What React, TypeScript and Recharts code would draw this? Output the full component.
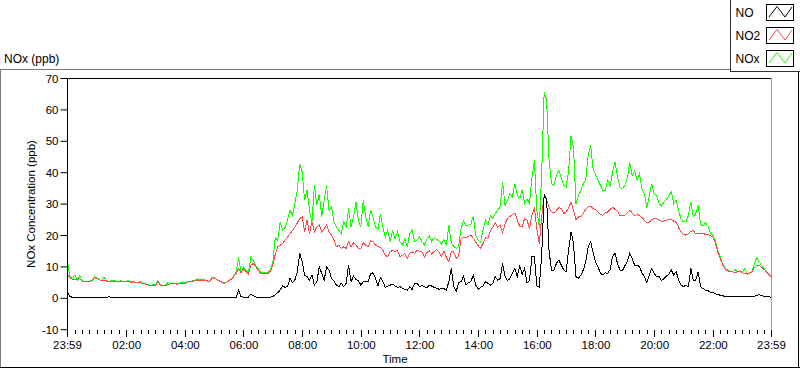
import React from 'react';
import { LineChart, Line, XAxis, YAxis, ReferenceLine } from 'recharts';

const FONT = '"Liberation Sans", Arial, sans-serif';

// sampling step of the series (minutes from 23:59 of the previous day)
const STEP_MIN = 5;

// NO (ppb), one row per hour (12 x 5-min values)
const NO_PPB = [
  1.8, 0.6, 0.3, 0.2, 0.3, 0.2, 0.2, 0.2, 0.3, 0.2, 0.2, 0.3,
  0.2, 0.3, 0.2, 0.2, 0.2, 0.5, 0.2, 0.2, 0.2, 0.2, 0.2, 0.2,
  0.2, 0.2, 0.2, 0.3, 0.2, 0.2, 0.4, 0.2, 0.3, 0.2, 0.2, 0.2,
  0.3, 0.2, 0.3, 0.2, 0.2, 0.3, 0.3, 0.2, 0.3, 0.2, 0.3, 0.4,
  0.3, 0.3, 0.2, 0.3, 0.3, 0.3, 0.2, 0.3, 0.3, 0.3, 0.3, 0.4,
  0.3, 0.3, 0.3, 0.3, 0.3, 0.3, 0.3, 0.3, 0.4, 0.4, 2.6, 0.5,
  0.4, 0.4, 0.4, 1.4, 0.8, 0.4, 0.4, 0.4, 0.4, 0.4, 0.4, 0.4,
  0.5, 1.2, 1.8, 2.6, 4.0, 3.5, 3.7, 6.3, 5.0, 5.8, 8.4, 14.3,
  11.6, 7.4, 6.9, 5.8, 7.4, 4.2, 5.3, 10.0, 7.9, 5.8, 10.0, 9.0,
  6.3, 5.6, 4.2, 3.7, 4.8, 3.7, 4.8, 10.6, 5.3, 7.1, 6.0, 5.6,
  4.2, 5.3, 5.3, 5.3, 7.9, 8.1, 6.3, 3.9, 6.6, 5.3, 3.5, 3.9,
  4.2, 4.5, 3.9, 3.5, 3.7, 3.2, 2.8, 2.6, 3.7, 2.8, 4.8, 4.8,
  3.7, 4.0, 3.7, 3.4, 4.1, 3.9, 3.5, 3.2, 2.9, 3.1, 3.1, 2.6,
  5.3, 9.5, 3.9, 2.1, 5.0, 5.3, 6.9, 4.2, 5.0, 5.3, 7.4, 4.2,
  2.9, 3.5, 3.9, 5.3, 4.8, 4.2, 4.8, 6.9, 5.8, 6.3, 11.1, 6.9,
  5.6, 6.3, 7.9, 9.5, 6.9, 10.3, 7.7, 9.5, 4.8, 5.8, 13.2, 13.2,
  4.0, 3.5, 14.0, 33.0, 31.5, 15.0, 9.0, 9.0, 11.1, 12.2, 10.6, 9.0,
  8.5, 15.3, 21.2, 17.4, 6.9, 6.3, 7.4, 9.0, 11.6, 16.4, 18.0, 14.8,
  11.6, 10.0, 8.1, 7.4, 8.1, 7.9, 9.2, 13.4, 14.3, 11.1, 9.0, 8.8,
  10.3, 11.6, 14.3, 12.7, 10.6, 10.6, 10.0, 8.1, 6.9, 5.0, 7.4, 9.5,
  7.9, 6.9, 6.9, 5.6, 6.3, 7.1, 7.7, 9.0, 7.4, 8.5, 5.8, 4.2,
  3.7, 4.2, 3.7, 9.5, 5.8, 5.8, 8.5, 3.7, 3.1, 2.6, 2.4, 2.0,
  1.8, 1.5, 1.2, 1.0, 0.8, 0.6, 0.5, 0.5, 0.5, 0.5, 0.5, 0.5,
  0.5, 0.5, 0.5, 0.5, 0.5, 0.7, 1.0, 1.1, 0.8, 0.6, 0.5, 0.5,
  0.3,
];

// NO2 (ppb)
const NO2_PPB = [
  7.5, 6.5, 6.1, 6.0, 5.8, 6.3, 5.5, 5.3, 5.3, 5.3, 5.6, 6.6,
  6.3, 5.9, 5.5, 5.8, 5.5, 5.3, 5.5, 5.5, 5.4, 5.3, 5.5, 5.2,
  5.3, 5.5, 5.1, 5.2, 5.0, 5.0, 4.9, 4.7, 4.5, 4.2, 4.0, 4.2,
  4.1, 5.5, 4.2, 4.0, 4.0, 4.3, 4.6, 4.8, 4.6, 4.5, 4.7, 4.6,
  4.8, 5.1, 5.3, 5.4, 5.6, 5.6, 5.8, 5.8, 5.8, 5.6, 5.3, 6.2,
  6.6, 5.9, 5.6, 5.2, 4.8, 5.0, 5.6, 6.0, 6.9, 8.0, 9.5, 8.0,
  9.5, 8.5, 7.6, 10.5, 11.1, 10.0, 9.0, 8.0, 7.9, 7.9, 7.9, 8.5,
  10.6, 14.0, 16.4, 16.9, 17.5, 18.5, 19.5, 20.5, 21.5, 22.7, 24.0, 25.4,
  25.9, 21.2, 24.9, 20.6, 24.3, 21.2, 22.7, 23.3, 21.2, 22.2, 23.3, 21.2,
  20.1, 18.5, 16.4, 16.9, 15.9, 16.4, 15.9, 18.0, 16.4, 17.7, 16.9, 15.9,
  15.9, 17.7, 16.9, 16.4, 18.3, 18.0, 16.9, 16.4, 16.2, 15.3, 13.7, 13.2,
  14.8, 15.3, 14.8, 15.3, 13.2, 13.7, 14.3, 12.7, 14.3, 14.8, 14.3, 15.3,
  15.0, 14.8, 13.2, 14.6, 15.1, 14.1, 14.9, 15.5, 14.7, 13.4, 15.1, 13.0,
  11.6, 14.8, 14.8, 12.7, 13.4, 19.1, 19.4, 19.2, 19.8, 20.1, 19.2, 17.9,
  16.7, 15.9, 17.5, 19.3, 19.1, 21.5, 22.7, 24.1, 22.7, 23.3, 20.8, 23.8,
  25.4, 26.1, 26.7, 27.2, 24.9, 22.9, 22.9, 25.4, 24.9, 22.2, 26.4, 28.9,
  22.0, 17.4, 26.0, 32.8, 31.5, 29.0, 27.5, 27.2, 28.0, 28.9, 28.6, 27.0,
  27.5, 28.8, 30.7, 28.0, 25.1, 25.9, 25.9, 27.0, 28.3, 29.1, 29.3, 28.6,
  28.3, 27.5, 26.8, 26.4, 27.2, 27.5, 28.3, 29.0, 28.3, 27.7, 26.4, 26.4,
  26.4, 27.3, 28.0, 27.2, 26.4, 26.7, 26.4, 25.7, 24.9, 24.0, 24.2, 25.1,
  25.4, 25.3, 24.9, 24.5, 24.6, 24.9, 25.1, 25.0, 24.6, 24.2, 22.5, 21.0,
  20.4, 20.1, 20.6, 21.4, 21.5, 20.6, 20.8, 20.7, 20.6, 20.4, 20.3, 20.0,
  19.6, 17.7, 14.8, 12.7, 10.6, 9.3, 8.8, 8.5, 8.4, 8.1, 8.4, 8.6,
  8.1, 7.9, 7.7, 7.9, 8.4, 9.8, 10.6, 10.5, 9.8, 9.2, 8.4, 7.6,
  6.6,
];

// NOx (ppb)
const NOX_PPB = [
  11.6, 7.0, 6.2, 7.4, 5.9, 7.2, 5.6, 5.4, 5.4, 5.4, 5.7, 6.9,
  6.4, 6.0, 5.6, 6.7, 5.6, 5.4, 5.6, 5.6, 5.5, 5.4, 5.6, 5.3,
  5.4, 5.6, 5.2, 5.3, 5.1, 5.1, 5.5, 4.8, 4.6, 4.3, 4.1, 4.3,
  4.2, 5.6, 4.3, 4.1, 4.1, 5.0, 4.7, 4.9, 4.7, 4.6, 4.8, 5.2,
  4.9, 5.2, 5.4, 5.5, 5.7, 6.2, 5.9, 5.9, 5.9, 5.7, 5.4, 6.6,
  6.8, 6.0, 5.7, 5.3, 4.9, 5.1, 5.7, 6.1, 7.2, 8.4, 13.0, 8.5,
  9.9, 8.9, 8.0, 13.0, 12.0, 10.4, 9.4, 8.4, 8.3, 8.3, 8.3, 8.9,
  11.4, 19.4, 18.5, 24.3, 21.7, 22.5, 24.9, 28.0, 26.4, 30.0, 34.4, 42.9,
  40.2, 31.2, 34.4, 28.0, 24.3, 36.0, 29.6, 33.3, 25.9, 31.2, 36.0, 28.0,
  29.1, 24.3, 22.7, 21.7, 20.6, 24.3, 22.7, 28.6, 22.7, 25.9, 30.7, 24.9,
  22.7, 31.2, 25.9, 22.7, 28.0, 25.9, 22.7, 21.7, 26.9, 22.7, 19.6, 21.7,
  18.0, 21.7, 19.0, 21.2, 18.0, 16.9, 19.0, 16.4, 20.6, 21.7, 18.0, 18.5,
  19.6, 18.0, 17.0, 18.7, 19.8, 18.0, 19.4, 18.7, 18.3, 17.2, 18.7, 17.0,
  23.3, 17.5, 16.6, 15.9, 16.4, 22.2, 24.7, 23.0, 23.3, 23.6, 26.1, 20.1,
  18.5, 17.7, 21.7, 24.9, 23.3, 26.4, 25.4, 27.0, 28.0, 29.1, 37.0, 29.6,
  31.2, 33.3, 32.3, 36.5, 32.8, 31.7, 34.6, 30.2, 31.7, 30.2, 38.6, 43.9,
  28.0, 22.7, 40.0, 65.6, 63.0, 44.0, 36.5, 36.0, 39.1, 40.7, 38.4, 36.0,
  35.4, 40.7, 51.8, 48.1, 30.1, 32.8, 34.2, 36.5, 37.6, 45.5, 48.7, 41.3,
  39.4, 37.6, 36.0, 34.4, 34.4, 37.6, 35.7, 40.2, 43.4, 38.6, 35.4, 34.9,
  36.0, 38.1, 43.4, 39.1, 40.7, 37.6, 39.7, 34.9, 33.3, 28.8, 32.8, 36.5,
  33.3, 32.8, 30.2, 29.3, 30.7, 31.4, 32.8, 33.9, 30.2, 31.2, 28.0, 25.2,
  24.3, 24.3, 26.4, 30.7, 25.9, 27.0, 29.6, 23.6, 23.0, 24.0, 23.0, 20.8,
  20.0, 18.5, 15.2, 13.4, 11.0, 9.6, 9.0, 8.7, 8.5, 9.2, 8.5, 8.8,
  8.3, 9.5, 7.9, 8.1, 8.6, 11.1, 13.0, 11.5, 10.3, 9.4, 8.5, 7.7,
  6.6,
];

const MAJOR_TICK_MIN = [0, 121, 241, 361, 481, 601, 721, 841, 961, 1081, 1201, 1321, 1440];
const MAJOR_TICK_LABELS = ['23:59', '02:00', '04:00', '06:00', '08:00', '10:00', '12:00', '14:00', '16:00', '18:00', '20:00', '22:00', '23:59'];
const MINOR_TICK_STEP = 15;
const Y_TICKS = [-10, 0, 10, 20, 30, 40, 50, 60, 70];

const SERIES = [
  { key: 'NO', name: 'NO', color: '#000000' },
  { key: 'NO2', name: 'NO2', color: '#ff4a4a' },
  { key: 'NOx', name: 'NOx', color: '#12ff00' },
];

const MINOR_TICKS: number[] = [];
for (let t = 1; t < 1440; t += MINOR_TICK_STEP) {
  if (!MAJOR_TICK_MIN.includes(t)) MINOR_TICKS.push(t);
}
const ALL_TICKS = [...MAJOR_TICK_MIN, ...MINOR_TICKS].sort((a, b) => a - b);

const DATA = NO_PPB.map((no, i) => ({
  t: i * STEP_MIN,
  NO: no,
  NO2: NO2_PPB[i],
  NOx: NOX_PPB[i],
}));

const XTick = (props: any) => {
  const { x, y, payload } = props;
  const idx = MAJOR_TICK_MIN.indexOf(payload.value);
  const major = idx >= 0;
  return (
    <g>
      <line x1={x} x2={x} y1={y} y2={y + (major ? 7 : 4)} stroke="#000" shapeRendering="crispEdges" />
      {major && (
        <text x={x} y={y + 19} textAnchor="middle" fontSize={11.5} fill="#000" fontFamily={FONT}>
          {MAJOR_TICK_LABELS[idx]}
        </text>
      )}
    </g>
  );
};

export default function App() {
  return (
    <div style={{ position: 'absolute', left: 0, top: 0, width: 800, height: 369, background: '#fff', fontFamily: FONT }}>
      <style>{`.recharts-line-curve{shape-rendering:crispEdges}`}</style>
      <svg width={800} height={369} style={{ position: 'absolute', left: 0, top: 0 }}>
        <g shapeRendering="crispEdges">
          <line x1={0} y1={69.5} x2={730} y2={69.5} stroke="#7f7f7f" />
          <line x1={0.5} y1={69} x2={0.5} y2={368} stroke="#7f7f7f" />
          <line x1={0} y1={367.5} x2={800} y2={367.5} stroke="#000" />
          <line x1={798.5} y1={72} x2={798.5} y2={368} stroke="#000" />
          <line x1={730.5} y1={0} x2={730.5} y2={72} stroke="#303030" />
          <line x1={730} y1={71.5} x2={800} y2={71.5} stroke="#303030" />
        </g>
        <text x={4} y={63} fontSize={12} fill="#000" fontFamily={FONT}>NOx (ppb)</text>
        {SERIES.map((s, i) => {
          const top = 4.5 + i * 23;
          return (
            <g key={s.key}>
              <text x={735.5} y={16.8 + i * 23.2} fontSize={12} fill="#000" fontFamily={FONT}>{s.name}</text>
              <rect x={766.5} y={top} width={27} height={16} fill="#fff" stroke="#000" shapeRendering="crispEdges" />
              <polyline
                points={`769,${top + 12.5} 777,${top + 2} 785,${top + 12.5} 792,${top + 2.5}`}
                fill="none"
                stroke={s.color}
              />
            </g>
          );
        })}
      </svg>
      <div style={{ position: 'absolute', left: 0, top: 0 }}>
        <LineChart width={800} height={369} data={DATA} margin={{ top: 78.5, right: 28.5, bottom: 9.3, left: 7.5 }}>
          <XAxis
            dataKey="t"
            type="number"
            domain={[0, 1440]}
            ticks={ALL_TICKS}
            interval={0}
            tick={(p: any) => <XTick {...p} />}
            tickLine={false}
            axisLine={false}
            tickSize={0}
            tickMargin={0}
            height={30}
            label={() => (
              <text x={395} y={363} textAnchor="middle" fontSize={11.5} fill="#000" fontFamily={FONT}>Time</text>
            )}
          />
          <YAxis
            type="number"
            domain={[-10, 70]}
            ticks={Y_TICKS}
            interval={0}
            width={60}
            tickSize={7}
            tickMargin={2}
            axisLine={{ stroke: '#000' }}
            tickLine={{ stroke: '#000' }}
            tick={{ fontSize: 11.5, fill: '#000', fontFamily: FONT }}
            label={() => (
              <text x={35} y={204} transform="rotate(-90 35 204)" textAnchor="middle" fontSize={11.5} fill="#000" fontFamily={FONT}>
                NOx Concentration (ppb)
              </text>
            )}
          />
          <ReferenceLine y={70} stroke="#000" />
          <ReferenceLine x={1440} stroke="#a0a0a0" />
          <Line type="linear" dataKey="NOx" stroke="#12ff00" strokeWidth={1} dot={false} activeDot={false} isAnimationActive={false} />
          <Line type="linear" dataKey="NO2" stroke="#ff4a4a" strokeWidth={1} dot={false} activeDot={false} isAnimationActive={false} />
          <Line type="linear" dataKey="NO" stroke="#000000" strokeWidth={1} dot={false} activeDot={false} isAnimationActive={false} />
        </LineChart>
      </div>
    </div>
  );
}
